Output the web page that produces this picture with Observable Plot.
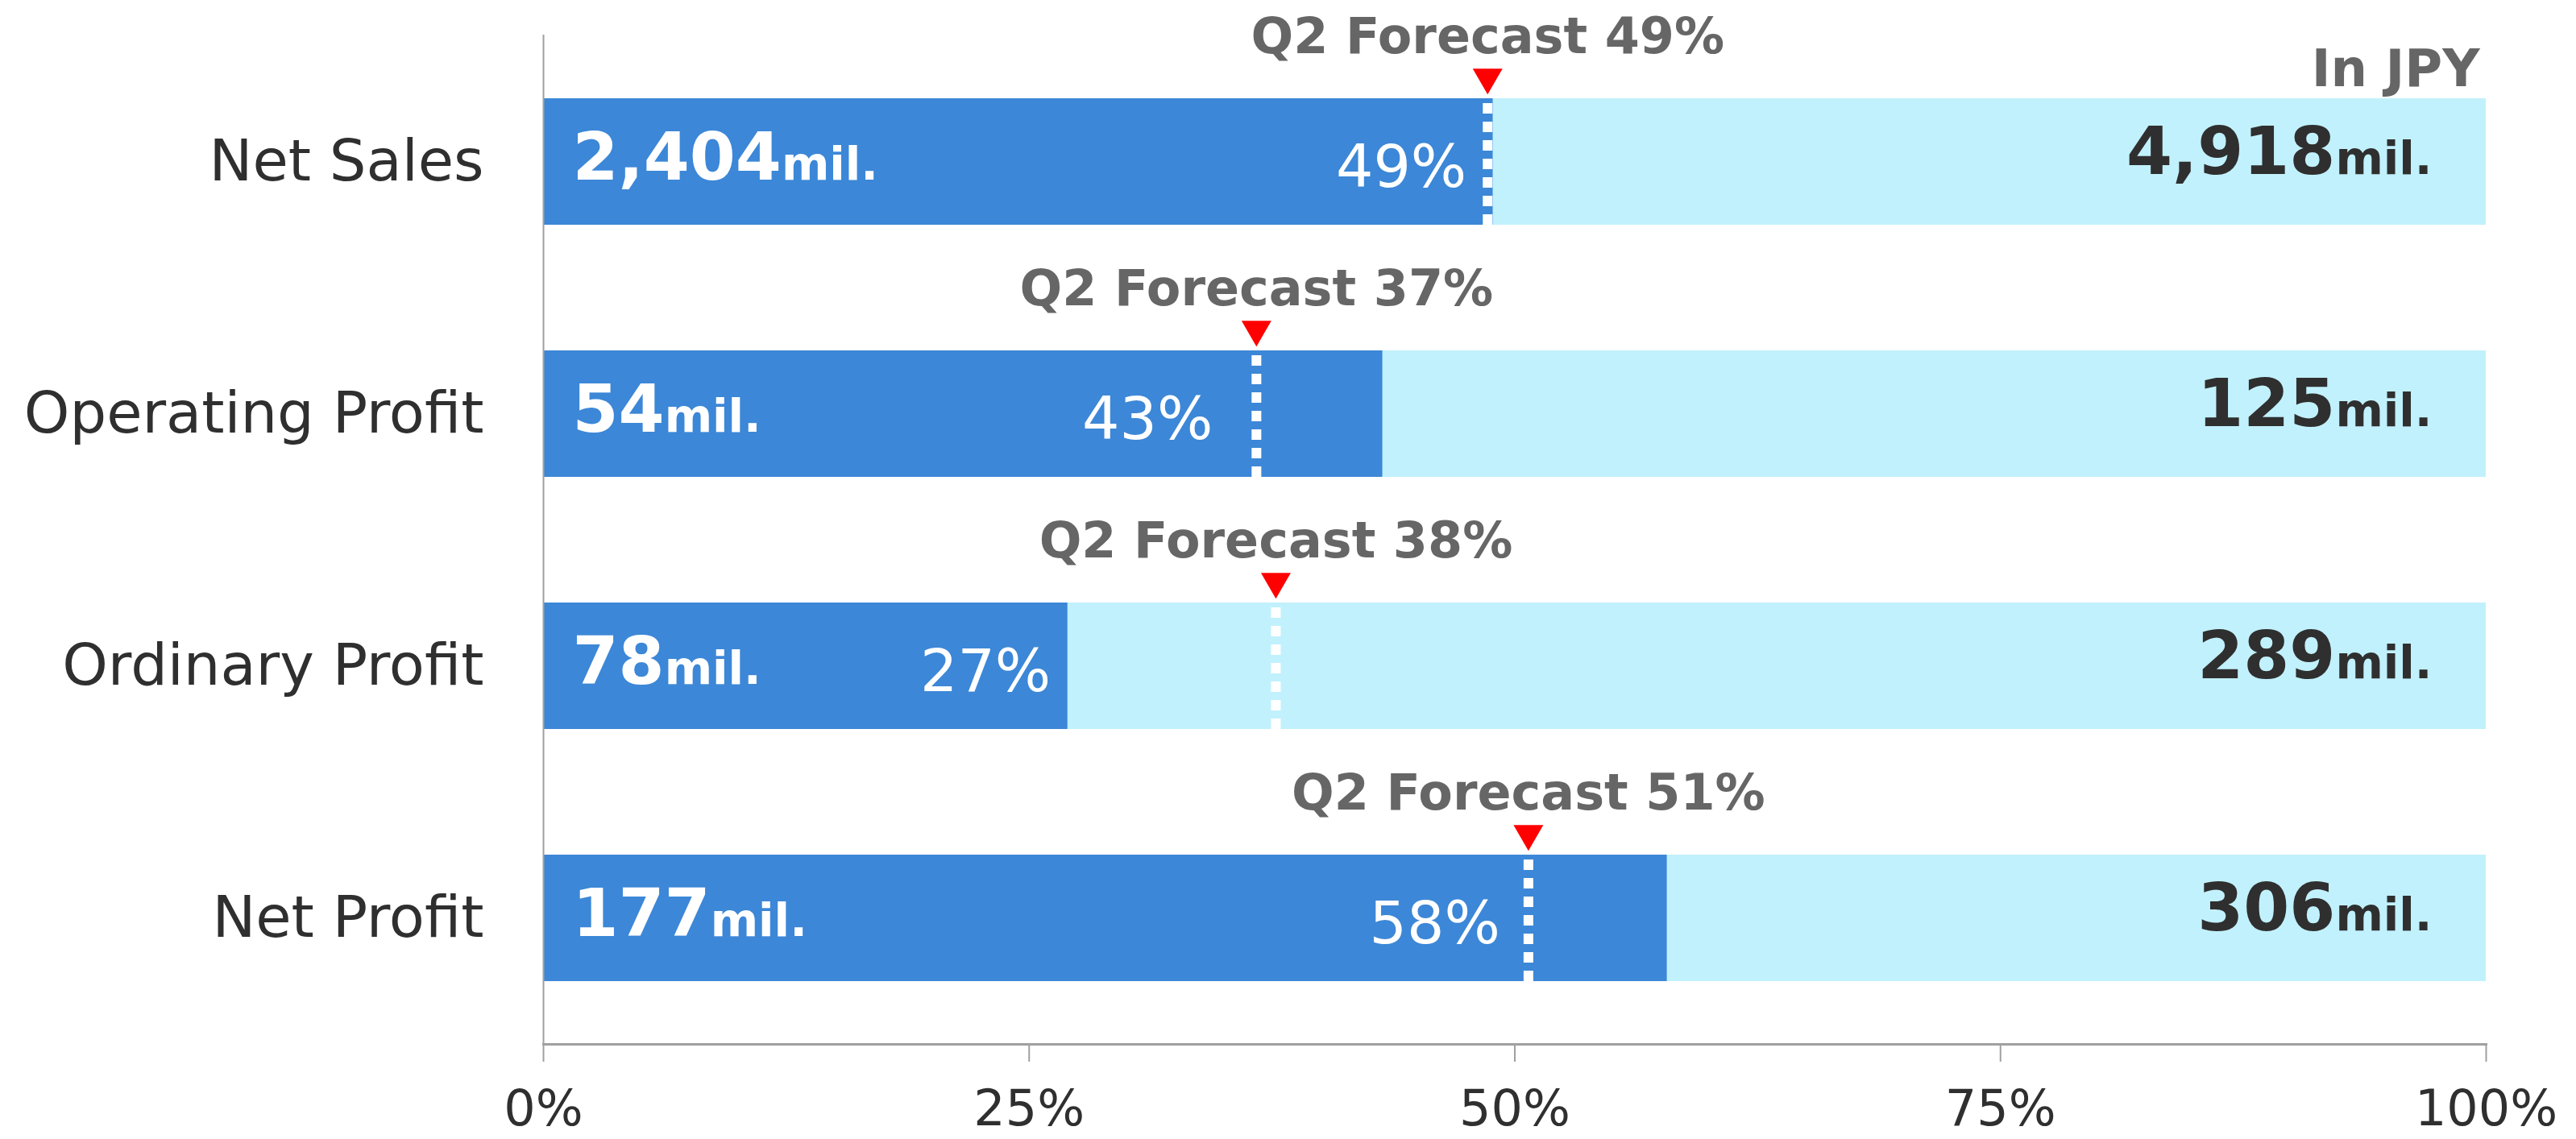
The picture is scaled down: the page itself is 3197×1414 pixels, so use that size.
<!DOCTYPE html>
<html><head><meta charset="utf-8">
<script src="https://cdn.jsdelivr.net/npm/d3@7"></script>
<script src="https://cdn.jsdelivr.net/npm/@observablehq/plot@0.6"></script>
<style>html,body{margin:0;padding:0;background:#fff;} svg{display:block}</style>
</head><body><div id="chart"></div>
<script>
// ---- data ----
const categories = ["Net Sales", "Operating Profit", "Ordinary Profit", "Net Profit"];
const actual = [2404, 54, 78, 177];          // mil. JPY, cumulative actual
const fullYear = [4918, 125, 289, 306];      // mil. JPY, full-year plan
const forecastPct = [48.6, 36.7, 37.7, 50.7]; // Q2 forecast, % of full year
const xTicks = [0, 25, 50, 75, 100];

const rows = categories.map((c, i) => ({
  category: c, actual: actual[i], plan: fullYear[i],
  pct: actual[i] / fullYear[i] * 100, forecast: forecastPct[i]
}));

// ---- layout / style ----
const W = 3197, H = 1414, mL = 674, mR = 112, mT = 43, mB = 118;
const pxToPct = 100 / (W - mL - mR);
const pctLabelGap = [26, 54, 21, 35];
const darkBlue = "#3c87d7", lightBlue = "#c1f1fc", ink = "#2f2f2f", gray = "#666666", axisGray = "#a0a0a0";
const fmt = d3.format(",");

const chart = Plot.plot({
  width: W, height: H, marginLeft: mL, marginRight: mR, marginTop: mT, marginBottom: mB,
  style: {fontFamily: "'DejaVu Sans', sans-serif", background: "#fff"},
  x: {domain: [0, 100]},
  y: {domain: categories, paddingInner: 0.5, paddingOuter: 0.25, label: null},
  marks: [
    Plot.barX(rows, {y: "category", x1: 0, x2: 100, fill: lightBlue}),
    Plot.barX(rows, {y: "category", x1: 0, x2: "pct", fill: darkBlue}),
    Plot.ruleX(rows, {x: "forecast", y1: "category", y2: "category", stroke: "#fff", strokeWidth: 12, strokeDasharray: "13,10", strokeDashoffset: 17}),
    Plot.dot(rows, {x: "forecast", y: "category", symbol: "triangle", r: 13.74, rotate: 180, fill: "#ff0000", stroke: "none", dy: -105}),
    Plot.text(rows, {x: "forecast", y: "category", text: d => `Q2 Forecast ${Math.round(d.forecast)}%`, fill: gray, fontWeight: "bold", fontSize: 62, dy: -155}),
    Plot.text(rows, {x: 0, y: "category", text: d => fmt(d.actual) + "mil.", textAnchor: "start", dx: 36, dy: -4, fill: "#fff", fontWeight: "bold", fontSize: 82}),
    Plot.text(rows, {x: 100, y: "category", text: d => fmt(d.plan) + "mil.", textAnchor: "end", dx: -67, dy: -11, fill: ink, fontWeight: "bold", fontSize: 82}),
    Plot.text(rows, {x: (d, i) => Math.min(d.pct, d.forecast) - pctLabelGap[i] * pxToPct, y: "category", text: d => Math.round(d.pct) + "%", textAnchor: "end", dy: 8, fill: "#fff", fontSize: 73}),
    Plot.ruleX([0], {stroke: axisGray, strokeWidth: 2}),
    Plot.frame({anchor: "bottom", stroke: axisGray, strokeWidth: 3}),
    Plot.axisX({ticks: xTicks, tickFormat: d => d + "%", tickSize: 22, tickPadding: 34, stroke: axisGray, strokeWidth: 2, fill: ink, fontSize: 62, label: null}),
    Plot.axisY({tickSize: 0, tickPadding: 74, fill: ink, fontSize: 72, label: null}),
    Plot.text(["In JPY"], {frameAnchor: "top-right", textAnchor: "end", lineAnchor: "top", dx: -8, dy: 18, fill: gray, fontWeight: "bold", fontSize: 64})
  ]
});

// smaller "mil." unit
d3.select(chart).selectAll("text").each(function () {
  if (this.childElementCount > 0) return;
  const m = (this.textContent || "").match(/^(.*?)(mil\.)$/);
  if (!m) return;
  const t = d3.select(this);
  t.text(null);
  t.append("tspan").text(m[1]);
  t.append("tspan").attr("font-size", 57).text(m[2]);
});

document.getElementById("chart").appendChild(chart);
</script>
</body></html>
